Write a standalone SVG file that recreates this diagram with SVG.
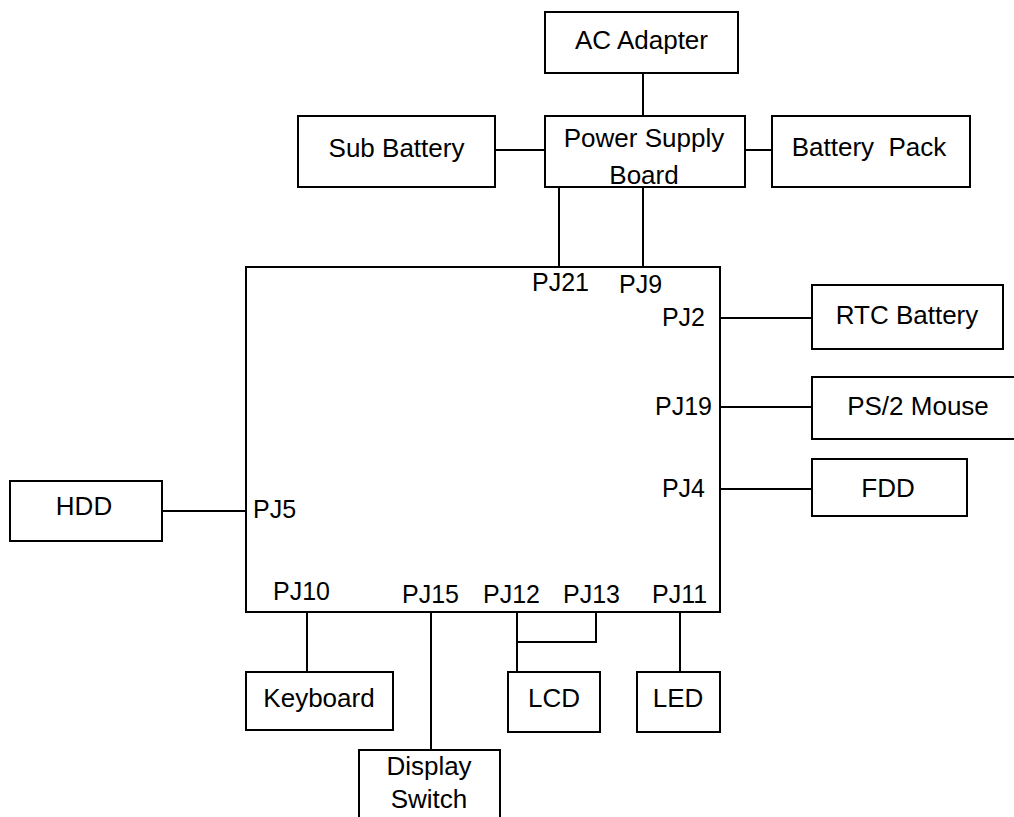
<svg xmlns="http://www.w3.org/2000/svg" width="1014" height="817" viewBox="0 0 1014 817">
<style>
rect{fill:#fff;stroke:#000;stroke-width:2}
line,polyline{stroke:#000;stroke-width:2;fill:none}
text{font-family:"Liberation Sans",Arial,sans-serif;font-size:26px;fill:#000}
.p{font-size:25px}
.c{text-anchor:middle}
.e{text-anchor:end}
</style>
<rect width="1014" height="817" style="stroke:none"/>
<g id="connectors">
<line x1="643" y1="73" x2="643" y2="116"/>
<line x1="495" y1="150" x2="545" y2="150"/>
<line x1="745" y1="150" x2="772" y2="150"/>
<line x1="559" y1="187" x2="559" y2="267"/>
<line x1="643" y1="187" x2="643" y2="267"/>
<line x1="720" y1="318" x2="812" y2="318"/>
<line x1="720" y1="407" x2="812" y2="407"/>
<line x1="720" y1="489" x2="812" y2="489"/>
<line x1="162" y1="511" x2="246" y2="511"/>
<line x1="307" y1="612" x2="307" y2="672"/>
<line x1="431" y1="612" x2="431" y2="750"/>
<polyline points="517,612 517,672"/>
<polyline points="517,642 596,642 596,612"/>
<line x1="680" y1="612" x2="680" y2="672"/>
</g>
<g id="main"><rect x="246" y="267" width="474" height="345"/>
<text class="p" x="532" y="291">PJ21</text><text class="p" x="619" y="293">PJ9</text>
<text class="p e" x="705" y="326">PJ2</text><text class="p e" x="712" y="415">PJ19</text><text class="p e" x="705" y="497">PJ4</text>
<text class="p" x="253" y="518">PJ5</text>
<text class="p" x="273" y="600">PJ10</text><text class="p" x="402" y="603">PJ15</text><text class="p" x="483" y="603">PJ12</text><text class="p" x="563" y="603">PJ13</text><text class="p" x="652" y="603">PJ11</text>
</g>
<g id="ac"><rect x="545" y="12" width="193" height="61"/><text class="c" x="641.5" y="49">AC Adapter</text></g>
<g id="sub"><rect x="298" y="116" width="197" height="71"/><text class="c" x="396.5" y="157">Sub Battery</text></g>
<g id="psb"><rect x="545" y="116" width="200" height="71"/><text class="c" x="644" y="147">Power Supply</text><text class="c" x="644" y="184">Board</text></g>
<g id="bp"><rect x="772" y="116" width="198" height="71"/><text class="c" x="869" y="156" xml:space="preserve">Battery  Pack</text></g>
<g id="rtc"><rect x="812" y="285" width="191" height="64"/><text class="c" x="907" y="324">RTC Battery</text></g>
<g id="ps2"><rect x="812" y="377" width="205" height="62"/><text class="c" x="918" y="415">PS/2 Mouse</text></g>
<g id="fdd"><rect x="812" y="459" width="155" height="57"/><text class="c" x="888" y="497">FDD</text></g>
<g id="hdd"><rect x="10" y="481" width="152" height="60"/><text class="c" x="84" y="515">HDD</text></g>
<g id="kb"><rect x="246" y="672" width="147" height="58"/><text class="c" x="319" y="707">Keyboard</text></g>
<g id="ds"><rect x="359" y="750" width="141" height="80"/><text class="c" x="429" y="775">Display</text><text class="c" x="429" y="808">Switch</text></g>
<g id="lcd"><rect x="508" y="672" width="92" height="60"/><text class="c" x="554" y="707">LCD</text></g>
<g id="led"><rect x="637" y="672" width="83" height="60"/><text class="c" x="678" y="707">LED</text></g>
</svg>
